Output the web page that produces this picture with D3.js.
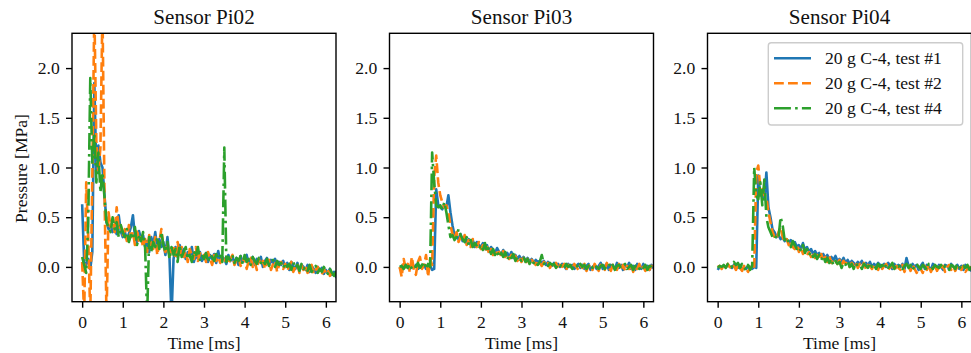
<!DOCTYPE html>
<html>
<head>
<meta charset="utf-8">
<script src="https://cdn.jsdelivr.net/npm/d3@7"></script>
<style>
  body { margin: 0; background: #fff; }
  svg { display: block; }
</style>
</head>
<body>
<div id="viz"></div>
<script>
// sensors and test runs
var sensors = ['Sensor Pi02', 'Sensor Pi03', 'Sensor Pi04']
var tests = ['20 g C-4, test #1', '20 g C-4, test #2', '20 g C-4, test #4']
var colors = ['#1f77b4', '#ff7f0e', '#2ca02c']
var dashes = ['none', '9.8,4.2', '16.9,4.2,2.6,4.2']

var xTicks = [0, 1, 2, 3, 4, 5, 6]
var yTicks = [0.0, 0.5, 1.0, 1.5, 2.0]

// sampling grid, one sample every 0.05 ms
var time = d3.range(127).map(function(i) { return i * 0.05 })

// pressure [MPa]
var pi02_t1 = [
  0.63, 0.05, 0.02, 0.08, -0.02, 0.15, 1.85, 0.95, 1.22, 1.05,
  1.0, 0.72, 0.45, 0.38, 0.42, 0.35, 0.4, 0.33, 0.52, 0.36,
  0.3, 0.35, 0.28, 0.33, 0.4, 0.52, 0.3, 0.25, 0.36, 0.28,
  0.32, 0.2, 0.26, 0.15, 0.3, 0.22, 0.35, 0.18, 0.28, 0.2,
  0.25, 0.12, 0.3, 0.1, -0.5, 0.08, 0.2, 0.1, 0.22, 0.12,
  0.18, 0.08, 0.15, 0.1, 0.2, 0.05, 0.12, 0.08, 0.15, 0.06,
  0.1, 0.14, 0.05, 0.12, 0.08, 0.13, 0.04, 0.16, 0.06, 0.1,
  0.08, 0.03, 0.12, 0.06, 0.1, 0.04, 0.09, 0.02, 0.11, 0.05,
  0.08, 0.12, 0.03, 0.07, 0.1, 0.02, 0.08, 0.05, 0.1, 0.0,
  0.06, 0.09, 0.02, 0.07, 0.04, 0.08, -0.01, 0.05, 0.02, 0.06,
  0.0, 0.04, -0.03, 0.05, 0.01, -0.02, 0.04, -0.04, 0.02, 0.0,
  -0.03, 0.02, -0.05, 0.01, -0.02, -0.06, 0.0, -0.04, -0.01, -0.07,
  -0.03, -0.06, -0.02, -0.08, -0.05, -0.1, -0.12
]
var pi02_t2 = [
  0.05, -0.5, 0.85, 0.3, -0.5, 0.9, 2.6, 1.25, 0.95, 1.2,
  2.6, 0.75, -0.5, 0.55, 0.4, 0.48, 0.35, 0.6, 0.38, 0.42,
  0.32, 0.38, 0.26, 0.42, 0.3, 0.35, 0.22, 0.38, 0.25, 0.3,
  0.2, 0.28, 0.15, 0.32, 0.22, 0.18, 0.3, 0.12, 0.25, 0.38,
  0.2, 0.15, 0.24, 0.1, 0.18, 0.22, 0.08, 0.25, 0.12, 0.2,
  0.1, 0.15, 0.05, 0.18, 0.12, 0.08, 0.2, 0.06, 0.14, 0.1,
  0.12, 0.05, 0.15, 0.08, 0.02, 0.12, 0.06, 0.1, 0.04, 0.09,
  0.05, 0.1, 0.03, 0.08, 0.12, 0.02, 0.07, 0.1, 0.01, 0.06,
  0.1, -0.02, 0.06, 0.09, 0.0, 0.05, -0.03, 0.08, 0.02, 0.06,
  -0.02, 0.04, 0.07, -0.03, 0.03, 0.06, -0.05, 0.02, 0.05, -0.02,
  0.03, -0.04, 0.01, 0.05, -0.05, 0.0, 0.03, -0.06, 0.02, -0.03,
  0.01, -0.06, -0.02, 0.02, -0.07, -0.03, 0.0, -0.05, -0.08, -0.02,
  -0.06, -0.03, -0.09, -0.05, -0.08, -0.07, -0.11
]
var pi02_t4 = [
  0.1, 0.02, -0.06, 0.45, 1.9, 1.05, 1.35, 0.85, 1.15, 0.75,
  0.95, 0.7, 0.45, 0.4, 0.35, 0.5, 0.38, 0.45, 0.3, 0.42,
  0.35, 0.3, 0.38, 0.25, 0.32, 0.28, 0.4, 0.22, 0.3, 0.26,
  0.35, 0.2, -0.5, 0.3, 0.15, 0.25, 0.2, 0.3, 0.18, 0.35,
  0.22, 0.15, 0.25, 0.08, 0.2, 0.12, 0.18, 0.05, 0.22, 0.1,
  0.15, 0.2, 0.08, 0.12, 0.05, 0.16, 0.1, 0.2, 0.07, 0.12,
  0.08, 0.14, 0.05, 0.12, 0.1, 0.06, 0.13, 0.08, 0.11, 0.05,
  1.2, 0.05, 0.1, 0.07, 0.12, 0.04, 0.09, 0.06, 0.11, 0.03,
  0.12, 0.05, 0.08, 0.02, 0.1, 0.06, 0.03, 0.09, 0.04, 0.07,
  0.03, 0.08, 0.01, 0.05, 0.07, 0.0, 0.06, 0.02, 0.04, -0.01,
  0.04, 0.0, 0.03, -0.03, 0.05, -0.01, 0.02, -0.04, 0.03, -0.02,
  0.0, -0.04, 0.02, -0.05, -0.01, 0.01, -0.06, -0.02, -0.05, 0.0,
  -0.04, -0.07, -0.02, -0.06, -0.09, -0.05, -0.13
]

var pi03_t1 = [
  -0.02, 0.01, -0.01, 0.02, 0.0, -0.02, 0.01, -0.01, 0.02, -0.02,
  0.01, -0.01, 0.02, -0.02, 0.0, 0.01, -0.03, -0.02, 0.78, 0.62,
  0.6, 0.58, 0.62, 0.6, 0.72, 0.55, 0.42, 0.32, 0.3, 0.28,
  0.33, 0.26, 0.3, 0.24, 0.28, 0.22, 0.27, 0.2, 0.25, 0.22,
  0.2, 0.24, 0.18, 0.22, 0.15, 0.2, 0.17, 0.14, 0.19, 0.15,
  0.13, 0.17, 0.12, 0.14, 0.1, 0.15, 0.09, 0.12, 0.08, 0.11,
  0.07, 0.1, 0.06, 0.09, 0.05, 0.08, 0.04, 0.07, 0.05, 0.06,
  0.04, 0.06, 0.02, 0.05, 0.03, 0.01, 0.04, 0.02, 0.03, 0.0,
  0.03, 0.01, -0.02, 0.03, 0.0, 0.02, -0.02, 0.01, 0.03, -0.01,
  0.02, -0.02, 0.01, 0.03, -0.03, 0.0, 0.02, -0.02, 0.01, 0.04,
  -0.02, 0.01, 0.03, -0.03, 0.02, 0.0, -0.02, 0.04, -0.01, 0.02,
  -0.03, 0.02, 0.0, 0.04, -0.02, 0.01, -0.03, 0.03, 0.0, -0.02,
  0.03, -0.02, 0.01, -0.03, 0.02, -0.01, 0.0
]
var pi03_t2 = [
  0.0, -0.1, 0.08, -0.02, 0.03, -0.05, 0.1, -0.03, -0.08, 0.05,
  0.1, -0.02, 0.02, 0.12, -0.1, 0.08, 0.02, 0.9, 1.12, 0.85,
  0.72, 0.65, 0.6, 0.62, 0.55, 0.42, 0.33, 0.28, 0.35, 0.25,
  0.3, 0.25, 0.32, 0.22, 0.27, 0.2, 0.28, 0.23, 0.2, 0.25,
  0.18, 0.22, 0.16, 0.2, 0.14, 0.18, 0.12, 0.17, 0.13, 0.15,
  0.11, 0.16, 0.1, 0.13, 0.08, 0.12, 0.07, 0.11, 0.06, 0.1,
  0.05, 0.09, 0.04, 0.08, 0.03, 0.07, 0.05, 0.02, 0.06, 0.04,
  0.01, 0.05, 0.02, 0.04, -0.01, 0.03, 0.0, 0.04, -0.02, 0.02,
  0.0, 0.03, -0.03, 0.02, 0.01, -0.02, 0.03, 0.0, -0.03, 0.02,
  -0.01, 0.03, -0.04, 0.01, 0.02, -0.03, 0.03, -0.01, -0.04, 0.02,
  0.0, -0.03, 0.04, -0.01, -0.04, 0.02, 0.01, -0.03, 0.03, -0.02,
  0.02, -0.04, 0.01, -0.02, 0.03, -0.05, 0.01, -0.02, 0.03, -0.03,
  0.0, -0.04, 0.02, -0.03, 0.01, -0.02, -0.04
]
var pi03_t4 = [
  0.0, 0.01, -0.02, 0.02, -0.01, 0.03, -0.02, 0.01, 0.0, 0.04,
  -0.01, 0.02, 0.05, -0.02, 0.03, 0.0, 1.15, 0.85, 0.62, 0.6,
  0.62, 0.58, 0.65, 0.55, 0.42, 0.3, 0.32, 0.27, 0.3, 0.38,
  0.32, 0.28, 0.25, 0.3, 0.22, 0.27, 0.2, 0.24, 0.21, 0.18,
  0.22, 0.17, 0.24, 0.15, 0.2, 0.13, 0.18, 0.12, 0.16, 0.1,
  0.14, 0.1, 0.15, 0.07, 0.12, 0.09, 0.13, 0.06, 0.1, 0.08,
  0.06, 0.1, 0.05, 0.08, 0.03, 0.07, 0.04, 0.06, 0.02, 0.05,
  0.12, 0.03, 0.05, 0.01, 0.04, 0.02, 0.03, -0.01, 0.03, 0.01,
  0.02, -0.01, 0.03, 0.0, 0.02, -0.02, 0.01, 0.02, -0.01, 0.03,
  0.0, 0.02, -0.02, 0.01, 0.03, -0.01, 0.02, 0.0, -0.02, 0.01,
  0.02, -0.02, 0.01, 0.03, -0.01, 0.02, -0.03, 0.01, 0.02, -0.01,
  0.01, 0.03, -0.02, 0.0, 0.02, -0.03, 0.01, 0.02, -0.02, 0.01,
  -0.01, 0.02, -0.03, 0.01, 0.0, -0.02, 0.01
]

var pi04_t1 = [
  -0.03, 0.0, -0.01, 0.01, 0.0, 0.02, 0.0, -0.01, 0.02, 0.01,
  -0.01, 0.02, -0.03, 0.0, -0.02, 0.01, 0.0, -0.02, 0.0, -0.01,
  0.92, 0.72, 0.75, 0.68, 0.95, 0.6, 0.5, 0.38, 0.35, 0.3,
  0.32, 0.28, 0.3, 0.26, 0.28, 0.24, 0.27, 0.22, 0.25, 0.2,
  0.22, 0.18, 0.24, 0.17, 0.2, 0.15, 0.18, 0.13, 0.16, 0.12,
  0.14, 0.1, 0.13, 0.09, 0.12, 0.08, 0.1, 0.07, 0.11, 0.06,
  0.08, 0.05, 0.09, 0.04, 0.07, 0.03, 0.06, 0.04, 0.02, 0.05,
  0.03, 0.06, 0.01, 0.04, 0.02, 0.05, 0.0, 0.03, 0.01, 0.04,
  0.02, -0.01, 0.03, 0.0, 0.04, 0.01, -0.02, 0.03, 0.0, 0.02,
  0.0, 0.03, -0.02, 0.09, 0.01, -0.02, 0.03, 0.0, 0.02, -0.03,
  0.01, 0.04, -0.02, 0.02, 0.0, -0.03, 0.03, 0.01, -0.02, 0.02,
  0.0, -0.03, 0.02, 0.01, -0.02, 0.03, 0.0, -0.01, 0.02, -0.02,
  0.01, -0.03, 0.02, 0.0, -0.02, -0.04, -0.01
]
var pi04_t2 = [
  0.0, 0.01, -0.02, 0.02, -0.01, 0.03, 0.0, -0.02, 0.01, -0.03,
  0.02, -0.01, -0.04, 0.01, -0.02, -0.05, 0.0, -0.03, -0.01, 0.95,
  1.02, 0.8, 0.78, 0.72, 0.7, 0.55, 0.45, 0.35, 0.3, 0.28,
  0.35, 0.4, 0.3, 0.25, 0.28, 0.22, 0.26, 0.2, 0.18, 0.22,
  0.15, 0.2, 0.13, 0.17, 0.12, 0.15, 0.1, 0.14, 0.09, 0.12,
  0.08, 0.13, 0.06, 0.1, 0.05, 0.11, 0.04, 0.08, 0.06, 0.03,
  0.07, 0.02, 0.06, 0.03, 0.05, 0.0, 0.04, 0.02, 0.05, -0.01,
  0.03, 0.0, 0.04, -0.02, 0.02, 0.01, -0.02, 0.03, 0.0, -0.03,
  0.02, -0.02, 0.01, 0.03, -0.03, 0.0, 0.02, -0.04, 0.01, -0.01,
  -0.03, 0.02, -0.05, 0.0, 0.01, -0.04, 0.02, -0.02, -0.06, 0.0,
  -0.02, -0.06, 0.01, -0.03, 0.02, -0.05, -0.01, 0.02, -0.04, 0.0,
  -0.03, 0.01, -0.05, 0.0, 0.02, -0.03, 0.01, -0.04, 0.0, 0.02,
  -0.03, 0.01, -0.05, -0.02, 0.0, -0.04, -0.03
]
var pi04_t4 = [
  -0.01, 0.01, 0.0, 0.02, -0.01, 0.03, 0.04, 0.0, 0.05, 0.02,
  0.04, -0.01, 0.03, 0.0, -0.04, 0.02, -0.03, 0.01, 1.0, 0.72,
  0.68, 0.85, 0.62, 0.88, 0.5, 0.4, 0.35, 0.3, 0.28, 0.32,
  0.3, 0.5, 0.42, 0.27, 0.3, 0.24, 0.2, 0.26, 0.22, 0.18,
  0.2, 0.16, 0.22, 0.14, 0.18, 0.12, 0.15, 0.1, 0.13, 0.08,
  0.12, 0.07, 0.11, 0.05, 0.09, 0.04, 0.08, 0.02, 0.06, 0.03,
  0.05, -0.01, 0.04, 0.02, 0.06, 0.0, 0.03, -0.02, 0.04, 0.01,
  0.02, -0.02, 0.03, 0.01, -0.01, 0.04, 0.0, 0.02, -0.02, 0.03,
  0.0, 0.02, -0.02, 0.03, -0.01, 0.01, 0.04, -0.02, 0.02, 0.0,
  0.02, -0.02, 0.01, 0.03, -0.01, 0.02, -0.03, 0.01, 0.03, 0.0,
  -0.02, 0.02, 0.0, -0.03, 0.03, 0.01, -0.02, 0.02, 0.0, -0.01,
  0.02, -0.02, 0.01, 0.0, -0.03, 0.02, 0.01, -0.02, 0.03, 0.0,
  -0.02, 0.01, -0.01, 0.02, -0.03, 0.0, -0.02
]

var panelSeries = [
  [pi02_t1, pi02_t2, pi02_t4],
  [pi03_t1, pi03_t2, pi03_t4],
  [pi04_t1, pi04_t2, pi04_t4]
]

// layout (px)
var width = 971,
  height = 353
var panelLeft = [72, 389.5, 707.5]
var panelW = 264
var plotTop = 33.3,
  plotBottom = 301.7
var font = "'Liberation Serif', 'DejaVu Serif', serif"
var fs = 17.6

var svg = d3
  .select('#viz')
  .append('svg')
  .attr('width', width)
  .attr('height', height)
  .style('font-family', font)

var y = d3
  .scaleLinear()
  .domain([-0.35, 2.35])
  .range([plotBottom, plotTop])

var line = d3
  .line()
  .x(function(d) { return d[0] })
  .y(function(d) { return d[1] })

sensors.forEach(function(name, p) {
  var x = d3
    .scaleLinear()
    .domain([-0.25, 6.25])
    .range([panelLeft[p], panelLeft[p] + panelW])

  svg
    .append('clipPath')
    .attr('id', 'clip' + p)
    .append('rect')
    .attr('x', panelLeft[p])
    .attr('y', plotTop)
    .attr('width', panelW)
    .attr('height', plotBottom - plotTop)

  var g = svg.append('g').attr('clip-path', 'url(#clip' + p + ')')

  // the three test runs, blue first, green on top
  panelSeries[p].forEach(function(vals, s) {
    var pts = vals.map(function(v, i) { return [x(time[i]), y(v)] })
    g.append('path')
      .attr('d', line(pts))
      .attr('fill', 'none')
      .attr('stroke', colors[s])
      .attr('stroke-width', 2.6)
      .attr('stroke-dasharray', dashes[s])
      .attr('stroke-linejoin', 'round')
  })

  // axes
  var xAxis = svg
    .append('g')
    .attr('transform', 'translate(0,' + plotBottom + ')')
    .call(
      d3.axisBottom(x)
        .tickValues(xTicks)
        .tickFormat(d3.format('d'))
        .tickSize(6)
        .tickPadding(7.5)
    )
  var yAxis = svg
    .append('g')
    .attr('transform', 'translate(' + panelLeft[p] + ',0)')
    .call(
      d3.axisLeft(y)
        .tickValues(yTicks)
        .tickFormat(d3.format('.1f'))
        .tickSize(6)
        .tickPadding(6.2)
    )
  ;[xAxis, yAxis].forEach(function(a) {
    a.attr('font-size', fs).attr('font-family', font)
    a.select('.domain').remove()
    a.selectAll('.tick line').attr('stroke', '#000').attr('stroke-width', 1.4)
    a.selectAll('.tick text').attr('fill', '#111')
  })

  // frame
  svg
    .append('rect')
    .attr('x', panelLeft[p])
    .attr('y', plotTop)
    .attr('width', panelW)
    .attr('height', plotBottom - plotTop)
    .attr('fill', 'none')
    .attr('stroke', '#000')
    .attr('stroke-width', 1.4)

  // title and x label
  svg
    .append('text')
    .attr('x', panelLeft[p] + panelW / 2)
    .attr('y', 23.5)
    .attr('text-anchor', 'middle')
    .attr('font-size', 21.1)
    .attr('fill', '#111')
    .text(name)

  svg
    .append('text')
    .attr('x', panelLeft[p] + panelW / 2)
    .attr('y', 348.5)
    .attr('text-anchor', 'middle')
    .attr('font-size', fs)
    .attr('fill', '#111')
    .text('Time [ms]')
})

// y label, first panel only
svg
  .append('text')
  .attr('transform', 'translate(26.5,168.5)rotate(-90)')
  .attr('text-anchor', 'middle')
  .attr('font-size', fs)
  .attr('fill', '#111')
  .text('Pressure [MPa]')

// legend in the last panel
var legend = svg.append('g')
legend
  .append('rect')
  .attr('x', 768.3)
  .attr('y', 42.7)
  .attr('width', 194.4)
  .attr('height', 82.3)
  .attr('rx', 3)
  .attr('fill', '#fff')
  .attr('fill-opacity', 0.8)
  .attr('stroke', '#ccc')
  .attr('stroke-width', 1.4)

tests.forEach(function(label, s) {
  var ly = 58.3 + s * 25
  legend
    .append('line')
    .attr('x1', 774)
    .attr('x2', 811)
    .attr('y1', ly)
    .attr('y2', ly)
    .attr('stroke', colors[s])
    .attr('stroke-width', 2.6)
    .attr('stroke-dasharray', dashes[s])
  legend
    .append('text')
    .attr('x', 825)
    .attr('y', ly)
    .attr('dy', '0.33em')
    .attr('font-size', fs)
    .attr('fill', '#111')
    .text(label)
})
</script>
</body>
</html>
